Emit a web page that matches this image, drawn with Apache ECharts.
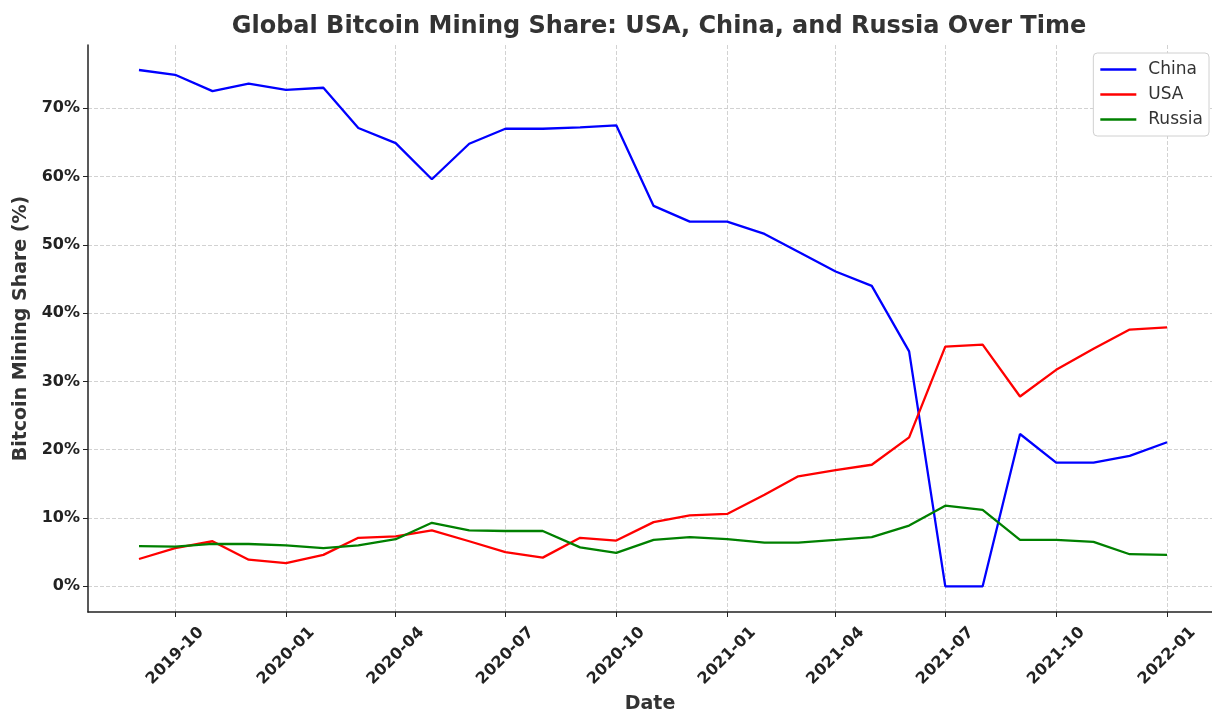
<!DOCTYPE html>
<html>
<head>
<meta charset="utf-8">
<script src="https://cdn.jsdelivr.net/npm/echarts@6/dist/echarts.min.js"></script>
<style>
html,body{margin:0;padding:0;background:#fff;}
#chart{width:1212px;height:719px;}
</style>
</head>
<body>
<div id="chart"></div>
<script>
const dates = ['2019-09-01','2019-10-01','2019-11-01','2019-12-01','2020-01-01','2020-02-01','2020-03-01','2020-04-01','2020-05-01','2020-06-01','2020-07-01','2020-08-01','2020-09-01','2020-10-01','2020-11-01','2020-12-01','2021-01-01','2021-02-01','2021-03-01','2021-04-01','2021-05-01','2021-06-01','2021-07-01','2021-08-01','2021-09-01','2021-10-01','2021-11-01','2021-12-01','2022-01-01'];
const china = [75.6,74.9,72.5,73.6,72.7,73.0,67.1,64.9,59.6,64.8,67.0,67.0,67.2,67.5,55.7,53.4,53.4,51.6,49.0,46.1,44.0,34.4,0,0,22.3,18.1,18.1,19.1,21.1];
const usa = [4.0,5.6,6.6,3.9,3.4,4.6,7.1,7.3,8.2,6.6,5.0,4.2,7.1,6.7,9.4,10.4,10.6,13.4,16.1,17.0,17.8,21.8,35.1,35.4,27.8,31.7,34.8,37.6,37.9];
const russia = [5.9,5.8,6.2,6.2,6.0,5.6,6.0,6.9,9.3,8.2,8.1,8.1,5.7,4.9,6.8,7.2,6.9,6.4,6.4,6.8,7.2,8.9,11.8,11.2,6.8,6.8,6.5,4.7,4.6];
const xTicks = ['2019-10-01','2020-01-01','2020-04-01','2020-07-01','2020-10-01','2021-01-01','2021-04-01','2021-07-01','2021-10-01','2022-01-01'];
const yTicks = [0,10,20,30,40,50,60,70];

function ts(s){ const p = s.split('-').map(Number); return Date.UTC(p[0], p[1]-1, p[2]); }
const xTickVals = xTicks.map(ts);
const DAY = 86400000;
const xMin = ts('2019-09-01') - 42.3*DAY;
const xMax = ts('2022-01-01') + 37.3*DAY;

const FONT = 'DejaVu Sans';
const chart = echarts.init(document.getElementById('chart'), null, {renderer:'canvas'});

function mk(name, vals, color, z){
  return {
    name: name, type: 'line', data: dates.map((d,i)=>[ts(d), vals[i]]),
    symbol: 'none', showSymbol: false, lineStyle: {color: color, width: 2.3}, itemStyle:{color: color},
    animation: false, z: z
  };
}

const gridLine = {show: true, lineStyle: {color: '#c6c6c6', type: [4,2], width: 0.8}};

chart.setOption({
  backgroundColor: '#fff',
  animation: false,
  title: {
    text: 'Global Bitcoin Mining Share: USA, China, and Russia Over Time',
    left: 654, textAlign: 'center', top: 10,
    textStyle: {fontFamily: FONT, fontSize: 24, fontWeight: 'bold', color: '#333'}
  },
  legend: {
    orient: 'vertical', right: 3, top: 53,
    data: ['China','USA','Russia'],
    icon: 'rect', itemWidth: 36, itemHeight: 2.5, itemGap: 8,
    padding: [8, 6, 8, 7],
    backgroundColor: '#fff', borderColor: '#d0d0d0', borderWidth: 1, borderRadius: 4,
    textStyle: {fontFamily: FONT, fontSize: 17, color: '#333', lineHeight: 17, padding: [0, 0, 0, 7]}
  },
  grid: {left: 88, right: 0, top: 45, bottom: 100, containLabel: false},
  xAxis: {
    type: 'value', min: xMin, max: xMax, scale: true,
    name: 'Date', nameLocation: 'middle', nameGap: 83,
    nameTextStyle: {fontFamily: FONT, fontSize: 19, fontWeight: 'bold', color: '#333'},
    axisLine: {show: true, onZero: false, lineStyle: {color: '#222', width: 1.5}},
    axisTick: {show: true, length: 5, inside: false, lineStyle: {color: '#222', width: 1}, customValues: xTickVals},
    axisLabel: {
      customValues: xTickVals, rotate: 45, margin: 44, align: 'center', verticalAlign: 'middle',
      fontFamily: FONT, fontSize: 16, fontWeight: 'bold', color: '#222',
      formatter: function(v){ const d = new Date(v); const m = d.getUTCMonth()+1; return d.getUTCFullYear() + '-' + (m<10?'0'+m:m); }
    },
    splitLine: gridLine
  },
  yAxis: {
    type: 'value', min: -3.76, max: 79.26,
    name: 'Bitcoin Mining Share (%)', nameLocation: 'middle', nameGap: 56,
    nameTextStyle: {fontFamily: FONT, fontSize: 19, fontWeight: 'bold', color: '#333'},
    axisLine: {show: true, onZero: false, lineStyle: {color: '#222', width: 1.5}},
    axisTick: {show: true, length: 5, inside: false, lineStyle: {color: '#222', width: 1}, customValues: yTicks},
    axisLabel: {customValues: yTicks, margin: 8, fontFamily: FONT, fontSize: 16, fontWeight: 'bold', color: '#222',
      formatter: function(v){ return Math.round(v) + '%'; }},
    splitLine: gridLine
  },
  series: [mk('China', china, '#0000ff', 3), mk('USA', usa, '#ff0000', 4), mk('Russia', russia, '#008000', 5)]
});
</script>
</body>
</html>
